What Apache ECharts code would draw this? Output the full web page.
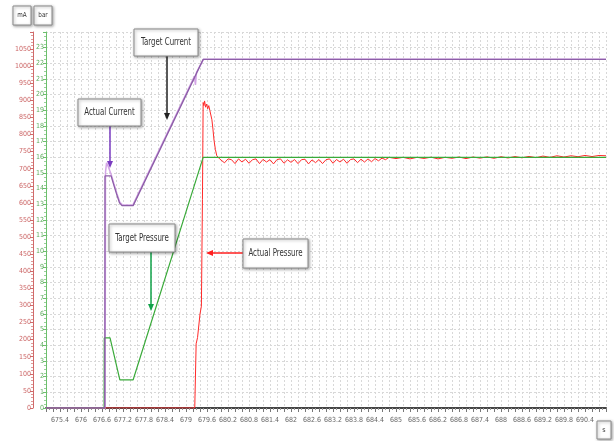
<!DOCTYPE html>
<html><head><meta charset="utf-8">
<script src="https://cdn.jsdelivr.net/npm/echarts@6/dist/echarts.min.js"></script>
<style>html,body{margin:0;padding:0;background:#fff}#c{width:614px;height:441px}</style>
</head><body><div id="c"></div>
<script>
// ---- data (time in s) ----
const tcTime  = [675.0, 676.68, 676.685, 676.86, 676.93, 677.02, 677.10, 677.17, 677.49, 679.49, 691.0];
const tcValue = [0, 0, 679, 679, 655, 625, 600, 592, 592, 1020, 1020];           // Target Current, mA

const acTime  = [675.0, 676.69, 676.70, 676.73, 676.78, 676.86, 676.94, 677.03, 677.11, 677.19, 677.48, 679.24, 679.27, 679.30, 679.50, 691.0];
const acValue = [0, 0, 690, 717, 706, 684, 656, 626, 602, 594, 594, 970, 945, 982, 1020, 1020]; // Actual Current, mA

const tpTime  = [675.0, 676.66, 676.665, 676.83, 677.11, 677.49, 679.49, 691.0];
const tpValue = [0, 0, 4.47, 4.47, 1.8, 1.8, 16.0, 16.0];                       // Target Pressure, bar

const apTime  = [675.0, 679.25, 679.29, 679.33, 679.40, 679.44, 679.47, 679.49, 679.51, 679.53, 679.56, 679.59, 679.62, 679.65, 679.68, 679.71, 679.74, 679.77, 679.80, 679.84, 679.88, 679.92, 679.96,
  680.0, 680.1, 680.2, 680.3, 680.4, 680.5, 680.6, 680.7, 680.8, 680.9, 681.0, 681.1, 681.2, 681.3, 681.4, 681.5, 681.6, 681.7, 681.8, 681.9,
  682.0, 682.1, 682.2, 682.3, 682.4, 682.5, 682.6, 682.7, 682.8, 682.9, 683.0, 683.1, 683.2, 683.3, 683.4, 683.5, 683.6, 683.7, 683.8, 683.9,
  684.0, 684.1, 684.2, 684.3, 684.4, 684.5, 684.6, 684.7, 684.8, 685.0, 685.2, 685.4, 685.6, 685.8, 686.0, 686.2, 686.4, 686.6, 686.8, 687.0,
  687.2, 687.4, 687.6, 687.8, 688.0, 688.2, 688.4, 688.6, 688.8, 689.0, 689.2, 689.4, 689.6, 689.8, 690.0, 690.2, 690.4, 690.6, 690.8, 691.0];
const apValue = [0, 0, 4.1, 4.5, 6.0, 6.5, 13.3, 19.5, 19.3, 19.6, 19.2, 19.4, 19.1, 19.3, 19.0, 18.9, 18.4, 17.8, 17.1, 16.5, 16.1, 16.05, 15.9,
  15.9, 15.65, 15.9, 15.85, 15.6, 15.9, 15.7, 15.88, 15.62, 15.85, 15.9, 15.6, 15.87, 15.7, 15.85, 15.58, 15.86, 15.9, 15.62, 15.84,
  15.68, 15.86, 15.6, 15.85, 15.88, 15.58, 15.84, 15.66, 15.86, 15.6, 15.85, 15.9, 15.62, 15.86, 15.7, 15.88, 15.62, 15.86, 15.9, 15.66,
  15.88, 15.7, 15.9, 15.72, 15.92, 15.78, 15.95, 15.85, 16.0, 15.92, 16.0, 15.9, 16.0, 15.93, 16.01, 15.9, 16.0, 15.94, 16.02, 15.92,
  16.02, 15.95, 16.03, 15.94, 16.04, 15.96, 16.05, 15.97, 16.06, 15.98, 16.08, 16.0, 16.1, 16.02, 16.1, 16.04, 16.12, 16.05, 16.12, 16.1]; // Actual Pressure, bar

const xFirstLabel = 675.4, xLabelStep = 0.6;

const pairs = (t, v) => t.map((x, i) => [x, v[i]]);
const FONT = "'Liberation Sans Narrow','DejaVu Sans Condensed','Liberation Sans',sans-serif";

const chart = echarts.init(document.getElementById('c'), null, {renderer: 'canvas'});

function box(x, y, w, h, txt, fs, sx) {
  return [
    {type: 'rect', shape: {x, y, width: w, height: h}, z: 100,
     style: {fill: '#fff', stroke: '#8a8a8a', lineWidth: 1, shadowBlur: 3, shadowColor: 'rgba(0,0,0,0.35)', shadowOffsetX: 1, shadowOffsetY: 1}},
    {type: 'text', x: x + w / 2, y: y + h / 2, z: 101, scaleX: sx || 1,
     style: {text: txt, fill: '#333', font: (fs || 10) + 'px ' + FONT, align: 'center', verticalAlign: 'middle'}}
  ];
}
function arrow(x1, y1, x2, y2, color) {
  const ang = Math.atan2(y2 - y1, x2 - x1), L = 7, W = 3;
  const bx = x2 - L * Math.cos(ang), by = y2 - L * Math.sin(ang);
  const px = -Math.sin(ang) * W, py = Math.cos(ang) * W;
  return [
    {type: 'line', z: 99, shape: {x1, y1, x2: bx, y2: by}, style: {stroke: color, lineWidth: 1.5}},
    {type: 'polygon', z: 99, shape: {points: [[x2, y2], [bx + px, by + py], [bx - px, by - py]]}, style: {fill: color}}
  ];
}

const option = {
  animation: false,
  backgroundColor: '#fff',
  grid: {left: 46, right: 8, top: 32, bottom: 33, containLabel: false},
  xAxis: {
    type: 'value', min: 675.0, max: 691.0, interval: 0.2,
    axisLine: {show: true, onZero: false, lineStyle: {color: '#444', width: 2}},
    axisTick: {show: true, length: 4, lineStyle: {color: '#777'}},
    minorTick: {show: true, splitNumber: 2, length: 2, lineStyle: {color: '#999'}},
    axisLabel: {
      fontSize: 7, color: '#666', fontFamily: FONT, margin: 9, showMaxLabel: false, showMinLabel: false,
      formatter: v => {
        const k = Math.round((v - xFirstLabel) / 0.2);
        return (k >= 0 && k % Math.round(xLabelStep / 0.2) === 0) ? String(+v.toFixed(1)) : '';
      }
    },
    splitLine: {show: true, lineStyle: {color: '#d8d8d8', type: [2, 2], width: 1}}
  },
  yAxis: [
    { // bar
      type: 'value', min: 0, max: 24, interval: 1, position: 'left', offset: 0,
      axisLine: {show: true, lineStyle: {color: '#6cbf6c', width: 1}},
      axisTick: {show: true, length: 3, lineStyle: {color: '#6cbf6c'}},
      minorTick: {show: true, splitNumber: 4, length: 2, lineStyle: {color: '#9ad09a'}},
      axisLabel: {fontSize: 7, color: '#5fae5f', fontFamily: FONT, margin: 2, showMaxLabel: false,
                  formatter: v => String(v)},
      splitLine: {show: true, lineStyle: {color: '#d8d8d8', type: [2, 2], width: 1}}
    },
    { // mA
      type: 'value', min: 0, max: 1100, interval: 50, position: 'left', offset: 13,
      axisLine: {show: true, lineStyle: {color: '#d06a6a', width: 1}},
      axisTick: {show: true, length: 3, lineStyle: {color: '#d06a6a'}},
      minorTick: {show: true, splitNumber: 5, length: 2, lineStyle: {color: '#e09a9a'}},
      axisLabel: {fontSize: 7, color: '#cc6666', fontFamily: FONT, margin: 2, showMaxLabel: false,
                  formatter: v => String(v)},
      splitLine: {show: false}
    }
  ],
  series: [
    {name: 'Actual Pressure', type: 'line', yAxisIndex: 0, showSymbol: false, symbol: 'none',
     data: pairs(apTime, apValue), lineStyle: {color: '#ff2a2a', width: 1}, z: 4},
    {name: 'Target Pressure', type: 'line', yAxisIndex: 0, showSymbol: false, symbol: 'none',
     data: pairs(tpTime, tpValue), lineStyle: {color: '#3aaa3a', width: 1.2}, z: 5},
    {name: 'Actual Current', type: 'line', yAxisIndex: 1, showSymbol: false, symbol: 'none',
     data: pairs(acTime, acValue), lineStyle: {color: '#d4a6e6', width: 1.5}, z: 3},
    {name: 'Target Current', type: 'line', yAxisIndex: 1, showSymbol: false, symbol: 'none',
     data: pairs(tcTime, tcValue), lineStyle: {color: '#8d5ea8', width: 1.3}, z: 6}
  ],
  graphic: [
    ...box(13, 6, 18, 19, 'mA', 7, 0.9),
    ...box(34, 6, 18, 19, 'bar', 7, 0.9),
    ...box(597, 421, 14, 18, 's', 7),
    ...box(134, 29, 64, 27, 'Target Current', 10, 0.78),
    ...arrow(167, 56, 167, 120, '#222'),
    ...box(78, 99, 63, 27, 'Actual Current', 10, 0.78),
    ...arrow(110, 126, 110, 168, '#7a3cc0'),
    ...box(109, 224, 66, 28, 'Target Pressure', 10, 0.78),
    ...arrow(151, 252, 151, 311, '#12a34a'),
    ...box(243, 239, 65, 29, 'Actual Pressure', 10, 0.78),
    ...arrow(243, 253, 206, 253, '#ff2020')
  ]
};
chart.setOption(option);
</script>
</body></html>
